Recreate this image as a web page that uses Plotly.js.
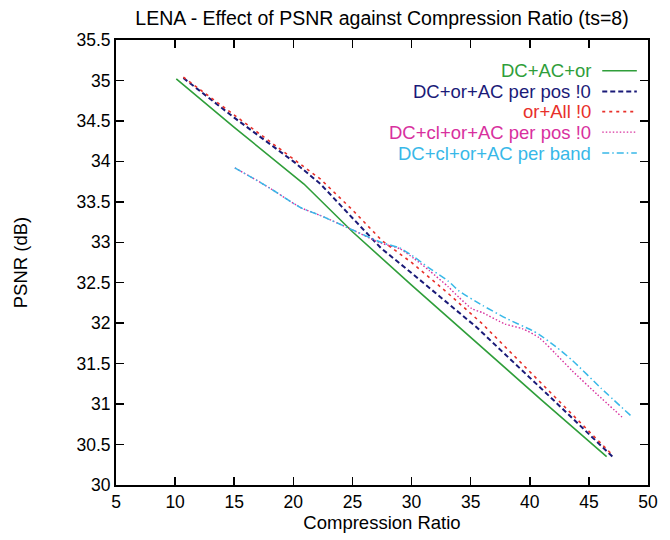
<!DOCTYPE html>
<html>
<head>
<meta charset="utf-8">
<script src="https://cdn.plot.ly/plotly-3.0.1.min.js"></script>
<style>html,body{margin:0;padding:0;background:#fff;}#chart{width:670px;height:540px;}</style>
</head>
<body>
<div id="chart"></div>
<script>
// Series names
const names = ["DC+AC+or", "DC+or+AC per pos !0", "or+All !0", "DC+cl+or+AC per pos !0", "DC+cl+or+AC per band"];

// DC+AC+or
const greenX = [10.1, 15, 20.9, 25, 30, 35, 41, 46.5];
const greenY = [35.02, 34.42, 33.72, 33.13, 32.47, 31.82, 31.05, 30.35];

// DC+or+AC per pos !0
const blueX = [10.7, 15, 20, 22.3, 25, 27.4, 30, 35.5, 42, 47];
const blueY = [35.03, 34.54, 34.0, 33.72, 33.3, 32.93, 32.62, 31.95, 31.05, 30.35];

// or+All !0
const redX = [10.7, 15, 20, 22.3, 25, 27.5, 30, 33, 36, 42, 47];
const redY = [35.04, 34.57, 34.03, 33.78, 33.4, 33.02, 32.75, 32.38, 31.99, 31.1, 30.37];

// DC+cl+or+AC per pos !0
const pinkX = [15.05, 16.5, 18, 20.6, 22.3, 24.6, 27.4, 29, 30.2, 31.5, 33.1, 34, 35.1, 36, 37.9, 39.4, 40.8, 42.2, 43.6, 45.7, 47.8];
const pinkY = [33.92, 33.8, 33.67, 33.43, 33.33, 33.18, 32.99, 32.92, 32.8, 32.65, 32.45, 32.32, 32.18, 32.13, 31.99, 31.93, 31.82, 31.62, 31.41, 31.12, 30.84];

// DC+cl+or+AC per band
const cyanX = [15.05, 16.5, 18, 20.6, 22.3, 24.6, 27.4, 29, 30.2, 31.5, 33.1, 34, 36, 38, 40.2, 40.8, 42.2, 43.6, 46, 48.6];
const cyanY = [33.92, 33.8, 33.67, 33.43, 33.33, 33.18, 33.0, 32.93, 32.82, 32.68, 32.52, 32.4, 32.22, 32.06, 31.91, 31.86, 31.71, 31.54, 31.2, 30.85];

// Axis ticks
const xTicks = [5, 10, 15, 20, 25, 30, 35, 40, 45, 50];
const yTicks = [30, 30.5, 31, 31.5, 32, 32.5, 33, 33.5, 34, 34.5, 35, 35.5];

const colors = ["#2f9e3a", "#1a1a78", "#e8302a", "#d8309e", "#38b8e8"];
const dashes = ["solid", "5px,3px", "3px,4px", "1.5px,2px", "7px,3px,1.5px,3px"];
const widths = [1.6, 2.0, 1.6, 1.4, 1.5];

const xs = [greenX, blueX, redX, pinkX, cyanX];
const ys = [greenY, blueY, redY, pinkY, cyanY];

const traces = xs.map((x, i) => ({
  x: x, y: ys[i], name: names[i], type: "scatter", mode: "lines",
  line: {color: colors[i], width: widths[i], dash: dashes[i], shape: (i >= 3 ? "spline" : "linear"), smoothing: 0.6},
  showlegend: false, hoverinfo: "skip"
}));

// Custom legend (text then sample, right-aligned)
const legY = [0.931, 0.884, 0.839, 0.793, 0.746];
const annotations = names.map((n, i) => ({
  xref: "paper", yref: "paper", x: 0.897, y: legY[i], xanchor: "right", yanchor: "middle",
  text: n, showarrow: false, font: {family: "Liberation Sans, Arial, sans-serif", size: 18.5, color: colors[i]}
}));
const shapes = names.map((n, i) => ({
  type: "line", xref: "paper", yref: "paper", x0: 0.914, x1: 0.979, y0: legY[i], y1: legY[i],
  line: {color: colors[i], width: widths[i], dash: dashes[i]}
}));

const axisCommon = {
  showgrid: false, zeroline: false, showline: true, linecolor: "#000", linewidth: 2,
  mirror: "ticks", ticks: "inside", ticklen: 8, tickwidth: 1.5, tickcolor: "#000",
  tickfont: {family: "Liberation Sans, Arial, sans-serif", size: 17.5, color: "#000"}
};

const layout = {
  width: 670, height: 540,
  margin: {l: 116, r: 22, t: 40, b: 55},
  paper_bgcolor: "#fff", plot_bgcolor: "#fff",
  font: {family: "Liberation Sans, Arial, sans-serif", color: "#000"},
  title: {text: "LENA - Effect of PSNR against Compression Ratio (ts=8)", x: 0.5, xref: "paper", xanchor: "center", y: 0.966, yref: "container", yanchor: "middle", font: {size: 19.5, color: "#000"}},
  xaxis: Object.assign({}, axisCommon, {range: [5, 50], tickvals: xTicks, ticktext: xTicks.map(String),
    title: {text: "Compression Ratio", standoff: 4, font: {size: 18.5, color: "#000"}}}),
  yaxis: Object.assign({}, axisCommon, {range: [30, 35.5], tickvals: yTicks, ticktext: yTicks.map(String),
    title: {text: "PSNR (dB)", standoff: 44, font: {size: 18.5, color: "#000"}}}),
  annotations: annotations,
  shapes: shapes
};

Plotly.newPlot("chart", traces, layout, {staticPlot: true, displayModeBar: false});
</script>
</body>
</html>
